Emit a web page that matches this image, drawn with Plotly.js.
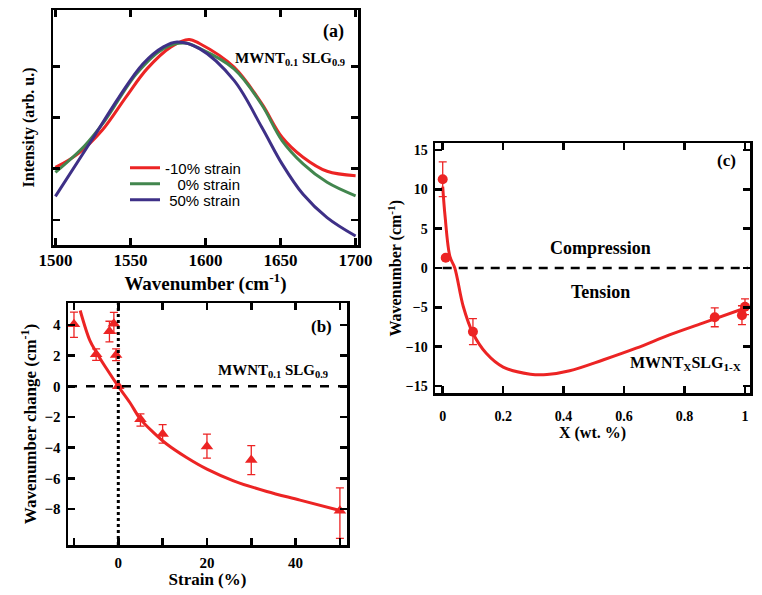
<!DOCTYPE html>
<html>
<head>
<meta charset="utf-8">
<script src="https://cdn.plot.ly/plotly-3.0.1.min.js"></script>
<style>html,body{margin:0;padding:0;background:#fff}#chart{width:762px;height:595px}</style>
</head>
<body>
<div id="chart"></div>
<script>
// ---------- Panel (a): Raman G-band spectra ----------
const redX   = [1500, 1515, 1531, 1547, 1561, 1577, 1589, 1596, 1619, 1637.5, 1651, 1665, 1681, 1700];
const redY   = [0.405, 0.458, 0.549, 0.68, 0.79, 0.876, 0.905, 0.889, 0.797, 0.654, 0.523, 0.445, 0.39, 0.373];
const greenX = [1500, 1519.5, 1533, 1554, 1572, 1586, 1596, 1619, 1637.5, 1651, 1665, 1681, 1700];
const greenY = [0.386, 0.49, 0.588, 0.771, 0.869, 0.891, 0.87, 0.79, 0.65, 0.51, 0.419, 0.347, 0.294];
const blueX  = [1500, 1524, 1542.4, 1558.4, 1572, 1581, 1596, 1619, 1637.5, 1651, 1665, 1681, 1700];
const blueY  = [0.292, 0.51, 0.68, 0.81, 0.876, 0.895, 0.869, 0.745, 0.562, 0.419, 0.30, 0.209, 0.137];
const legendNames = ["-10% strain", "\u00a0\u00a0\u00a00% strain", "\u00a050% strain"];
const aXTicks = [1500, 1550, 1600, 1650, 1700];
const aYTicks = [0.2, 0.4, 0.6, 0.8];

// ---------- Panel (b): wavenumber change vs strain ----------
const strain      = [-10, -5, -2, -1, -0.5, 0, 5, 10, 20, 30, 50];
const shiftB      = [4.05, 2.1, 3.6, 4.08, 2.05, 0, -2.15, -3.1, -3.92, -4.81, -8.12];
const errBPlus    = [0.8, 0.35, 0.65, 0.75, 0.4, 0, 0.35, 0.6, 0.8, 0.95, 1.5];
const errBMinus   = [0.85, 0.4, 0.7, 0.6, 0.37, 0, 0.45, 0.6, 0.76, 0.95, 1.8];
const fitBX = [-8.6, -6.4, -4.9, -2.6, 0, 2.6, 4.9, 7.9, 10.9, 15.4, 20, 26, 33.5, 41, 50];
const fitBY = [4.95, 2.98, 2.2, 1.13, 0, -1.05, -2.1, -3.0, -3.76, -4.64, -5.4, -6.16, -6.86, -7.42, -8.1];
const bXTicks = [0, 20, 40];
const bXMinor = [-10, 10, 30, 50];
const bYTicks = [-8, -6, -4, -2, 0, 2, 4];

// ---------- Panel (c): wavenumber vs X ----------
const xFrac     = [0, 0.01, 0.1, 0.9, 0.99, 1.0];
const shiftC    = [11.28, 1.3, -8.1, -6.27, -6.0, -4.92];
const errC      = [2.2, 0.2, 1.65, 1.2, 1.2, 1.0];
const fitCX = [0, 0.008, 0.024, 0.04, 0.068, 0.1, 0.144, 0.2, 0.29, 0.345, 0.42, 0.53, 0.64, 0.75, 0.86, 1.015];
const fitCY = [10.35, 6.5, 1.44, 0, -4.9, -8.3, -10.85, -12.6, -13.5, -13.55, -13.07, -11.7, -10.2, -8.5, -7.0, -4.9];
const cXTicks = [0, 0.2, 0.4, 0.6, 0.8, 1];
const cXText  = ["0", "0.2", "0.4", "0.6", "0.8", "1"];
const cYTicks = [-15, -10, -5, 0, 5, 10, 15];

const RED = "rgb(236,36,36)", GREEN = "rgb(66,134,78)", BLUE = "rgb(62,48,135)";
const SERIF = "Liberation Serif";
const SANS = "Liberation Sans";

const traces = [
  {x: redX, y: redY, mode: "lines", name: legendNames[0], legend: "legend", line: {color: RED, width: 3, shape: "spline"}, xaxis: "x", yaxis: "y"},
  {x: greenX, y: greenY, mode: "lines", name: legendNames[1], legend: "legend2", line: {color: GREEN, width: 3, shape: "spline"}, xaxis: "x", yaxis: "y"},
  {x: blueX, y: blueY, mode: "lines", name: legendNames[2], legend: "legend3", line: {color: BLUE, width: 3, shape: "spline"}, xaxis: "x", yaxis: "y"},
  {x: fitBX, y: fitBY, mode: "lines", showlegend: false, line: {color: RED, width: 3, shape: "spline"}, xaxis: "x2", yaxis: "y2"},
  {x: strain, y: shiftB, mode: "markers", showlegend: false, marker: {symbol: "triangle-up", size: 11, color: RED},
   error_y: {type: "data", symmetric: false, array: errBPlus, arrayminus: errBMinus, color: RED, thickness: 1.3, width: 4},
   xaxis: "x2", yaxis: "y2"},
  {x: fitCX, y: fitCY, mode: "lines", showlegend: false, line: {color: RED, width: 3, shape: "spline"}, xaxis: "x3", yaxis: "y3"},
  {x: xFrac, y: shiftC, mode: "markers", showlegend: false, marker: {symbol: "circle", size: 10, color: RED},
   error_y: {type: "data", array: errC, color: RED, thickness: 1.3, width: 4},
   xaxis: "x3", yaxis: "y3"}
];

function ax(extra, fs) {
  return Object.assign({
    showline: true, linewidth: 2.5, linecolor: "black", mirror: "ticks",
    ticks: "inside", ticklen: 7, tickwidth: 2.5, tickcolor: "black",
    showgrid: false, zeroline: false, automargin: false,
    tickfont: {family: SERIF, size: fs, color: "black", weight: "bold"}
  }, extra);
}
function ttl(text, fs, standoff) {
  return {text: text, font: {family: SERIF, size: fs, color: "black", weight: "bold"}, standoff: standoff};
}
const W = 762, H = 595;
const dx = (a, b) => [a / W, b / W];
const dy = (top, bot) => [(H - bot) / H, (H - top) / H];
const legBase = {x: 125 / W, xanchor: "left", yanchor: "middle", bgcolor: "rgba(0,0,0,0)",
                 font: {family: SANS, size: 15, color: "black", weight: "normal"}};

const layout = {
  width: W, height: H,
  margin: {l: 0, r: 0, t: 0, b: 0},
  paper_bgcolor: "white", plot_bgcolor: "white",
  font: {family: SERIF, color: "black", weight: "bold"},
  showlegend: true,
  legend:  Object.assign({y: (H - 168) / H}, legBase),
  legend2: Object.assign({y: (H - 184) / H}, legBase),
  legend3: Object.assign({y: (H - 200) / H}, legBase),
  xaxis: ax({domain: dx(53, 358), anchor: "y", range: [1498.4, 1701.6], tickvals: aXTicks,
             ticklabelstandoff: -2, title: ttl("Wavenumber (cm<sup>-1</sup>)", 19, 0)}, 17),
  yaxis: ax({domain: dy(10, 245), anchor: "x", range: [0.102, 1.02], tickvals: aYTicks,
             showticklabels: false, title: ttl("Intensity (arb. u.)", 16, 12)}, 16),
  xaxis2: ax({domain: dx(68, 347), anchor: "y2", range: [-11.35, 51.6], tickvals: bXTicks,
              minor: {tickvals: bXMinor, ticks: "inside", ticklen: 7, tickwidth: 2.5, tickcolor: "black"},
              ticklabelstandoff: 2, title: ttl("Strain (%)", 17, 0)}, 15),
  yaxis2: ax({domain: dy(303, 545), anchor: "x2", range: [-10.35, 5.44], tickvals: bYTicks,
              ticklabelstandoff: 2, title: ttl("Wavenumber change (cm<sup>-1</sup>)", 17, 4)}, 15),
  xaxis3: ax({domain: dx(435, 750), anchor: "y3", range: [-0.0255, 1.0166], tickvals: cXTicks, ticktext: cXText,
              ticklabelstandoff: 8, title: ttl("X (wt. %)", 16, 0)}, 14),
  yaxis3: ax({domain: dy(143.3, 393.3), anchor: "x3", range: [-15.93, 15.85], tickvals: cYTicks,
              ticklabelstandoff: 2, title: ttl("Wavenumber (cm<sup>-1</sup>)", 16, 0)}, 14),
  shapes: [
    {type: "line", xref: "x2 domain", yref: "y2", x0: 0, x1: 1, y0: 0, y1: 0, line: {color: "black", width: 2.5, dash: "dash"}},
    {type: "line", xref: "x2", yref: "y2 domain", x0: 0, x1: 0, y0: 0, y1: 1, line: {color: "black", width: 3, dash: "dot"}},
    {type: "line", xref: "x3", yref: "y3", x0: 0, x1: 1.01, y0: 0, y1: 0, line: {color: "black", width: 2.5, dash: "9px,7px"}}
  ],
  annotations: [
    {xref: "x", yref: "y", x: 1685.6, y: 0.937, text: "(a)", showarrow: false, font: {family: SERIF, size: 18, color: "black", weight: "bold"}},
    {xref: "x", yref: "y", x: 1694.5, y: 0.827, xanchor: "right", text: "MWNT<sub>0.1</sub> SLG<sub>0.9</sub>", showarrow: false, font: {family: SERIF, size: 15, color: "black", weight: "bold"}},
    {xref: "x2", yref: "y2", x: 45.8, y: 3.9, text: "(b)", showarrow: false, font: {family: SERIF, size: 17, color: "black", weight: "bold"}},
    {xref: "x2", yref: "y2", x: 47.8, y: 1.03, xanchor: "right", text: "MWNT<sub>0.1</sub> SLG<sub>0.9</sub>", showarrow: false, font: {family: SERIF, size: 15, color: "black", weight: "bold"}},
    {xref: "x3", yref: "y3", x: 0.938, y: 13.6, text: "(c)", showarrow: false, font: {family: SERIF, size: 17, color: "black", weight: "bold"}},
    {xref: "x3", yref: "y3", x: 0.521, y: 2.54, text: "Compression", showarrow: false, font: {family: SERIF, size: 18, color: "black", weight: "bold"}},
    {xref: "x3", yref: "y3", x: 0.521, y: -3.05, text: "Tension", showarrow: false, font: {family: SERIF, size: 18, color: "black", weight: "bold"}},
    {xref: "x3", yref: "y3", x: 0.994, y: -12.2, xanchor: "right", text: "MWNT<sub>X</sub>SLG<sub>1-X</sub>", showarrow: false, font: {family: SERIF, size: 16, color: "black", weight: "bold"}}
  ]
};

Plotly.newPlot("chart", traces, layout, {staticPlot: true, displayModeBar: false});
</script>
</body>
</html>
